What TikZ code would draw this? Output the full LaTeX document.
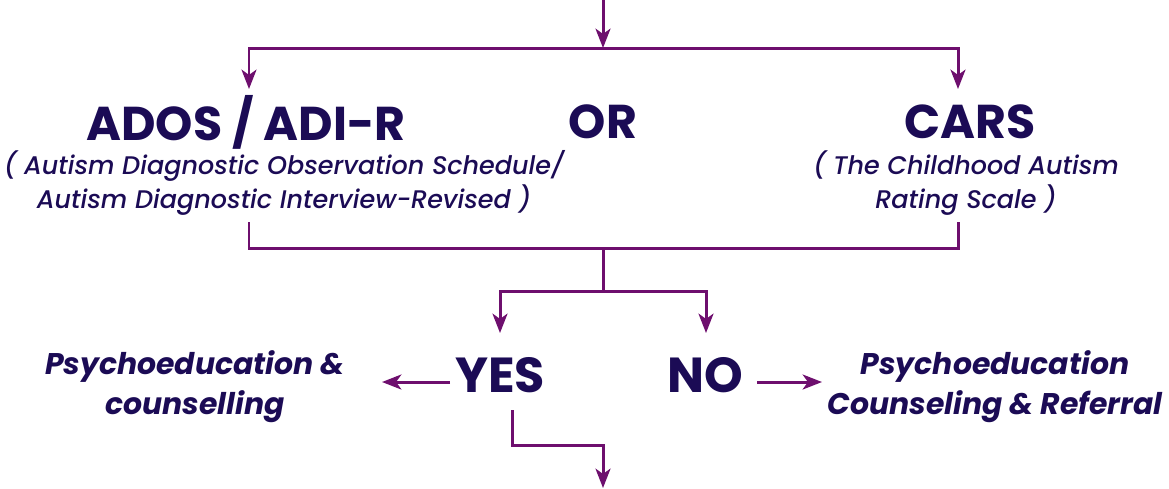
\documentclass[tikz,border=0pt]{standalone}
\usepackage{fontspec}
\setmainfont{Poppins}
\newfontfamily\subfont{Poppins}[UprightFont=* Medium, ItalicFont=* Medium Italic]
\usetikzlibrary{arrows.meta}
\definecolor{linepurple}{HTML}{6E0F6E}
\definecolor{textnavy}{HTML}{1B0B55}

\tikzset{
	flow/.style={draw=linepurple, line width=1.7pt},
	arr/.style={flow, -{Stealth[length=11pt, width=8.5pt, inset=3pt]}},
	title/.style={text=textnavy, font=\fontsize{27}{29}\selectfont\bfseries, inner sep=0pt},
	answer/.style={text=textnavy, font=\fontsize{28}{30}\selectfont\bfseries, inner sep=0pt},
	sub/.style={text=textnavy, align=center, inner sep=0pt, font=\fontsize{14.5}{19.8}\selectfont\subfont\itshape},
	action/.style={text=textnavy, align=center, inner sep=0pt, font=\fontsize{17}{22.7}\selectfont\bfseries\itshape}
}

\begin{document}
	\begin{tikzpicture}[x=0.02cm, y=-0.02cm]
		\useasboundingbox (0,0) rectangle (1169,488);
		
		% tests
		\node[title] (ados) at (246,122) {ADOS / ADI-R};
		\node[title] (or) at (603,122) {OR};
		\node[title] (cars) at (970,122) {CARS};
		\node[sub] (adosfull) at (284,183) {( Autism Diagnostic Observation Schedule/\\Autism Diagnostic Interview-Revised )};
		\node[sub] (carsfull) at (966,183) {( The Childhood Autism\\Rating Scale )};
		
		% outcome
		\node[answer] (yes) at (500,375) {YES};
		\node[answer] (no) at (705,375) {NO};
		\node[action] (counsel) at (195,387) {Psychoeducation \&\\counselling};
		\node[action] (referral) at (995,387) {Psychoeducation\\Counseling \& Referral};
		
		% junctions
		\coordinate (in) at (603,0);
		\coordinate (split) at (603,48);
		\coordinate (join) at (603,248);
		\coordinate (fork) at (603,291);
		\coordinate (out) at (603,488);
		
		\draw[arr] (in) -- (split);
		\draw[arr] (split) -| (249,89);
		\draw[arr] (split) -| (958,89);
		\draw[flow] (249,222) |- (join) -| (958,222);
		\draw[flow] (join) -- (fork);
		\draw[arr] (fork) -| (500,333);
		\draw[arr] (fork) -| (706,333);
		\draw[arr] (450,382) -- (382,382);
		\draw[arr] (757,382) -- (822,382);
		\draw[arr] (512,410) |- (603,445) -- (out);
	\end{tikzpicture}
\end{document}
